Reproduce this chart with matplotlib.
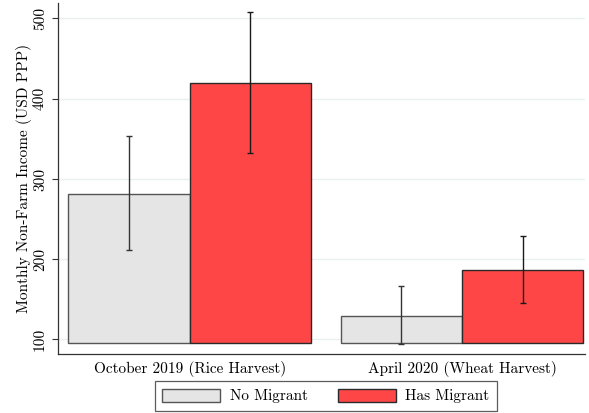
import matplotlib
matplotlib.use("Agg")
import matplotlib.pyplot as plt
import numpy as np
from matplotlib.patches import Patch

plt.rcParams['font.family'] = ['cmr10', 'DejaVu Serif']
plt.rcParams['axes.formatter.use_mathtext'] = True

periods = ["October 2019 (Rice Harvest)", "April 2020 (Wheat Harvest)"]
groups = ["No Migrant", "Has Migrant"]
no_migrant = [281.6, 129.3]
has_migrant = [419.3, 186.2]
no_lo = [211.2, 94.4]
no_hi = [353.6, 166.3]
has_lo = [332.3, 145.1]
has_hi = [507.7, 229.0]
yticks = [100, 200, 300, 400, 500]
base = 95.0

FS = 11

fig = plt.figure(figsize=(5.89, 4.13), dpi=100)
ax = fig.add_axes([58/589, 1-354/413, (585-58)/589, (354-3)/413])

x = np.arange(len(periods))
w = 0.446
gray = '#e5e5e5'
red = '#ff4646'

for i in range(len(periods)):
    ax.bar(x[i] - w/2, no_migrant[i] - base, bottom=base, width=w, color=gray,
           edgecolor='#555555', linewidth=1.0, zorder=2)
    ax.bar(x[i] + w/2, has_migrant[i] - base, bottom=base, width=w, color=red,
           edgecolor='#2a2a2a', linewidth=1.0, zorder=2)

ax.errorbar(x - w/2, no_migrant,
            yerr=[np.array(no_migrant) - np.array(no_lo), np.array(no_hi) - np.array(no_migrant)],
            fmt='none', ecolor='#333333', elinewidth=1.0, capsize=2.5, capthick=1.0, zorder=3)
ax.errorbar(x + w/2, has_migrant,
            yerr=[np.array(has_migrant) - np.array(has_lo), np.array(has_hi) - np.array(has_migrant)],
            fmt='none', ecolor='#1a1a1a', elinewidth=1.0, capsize=2.5, capthick=1.0, zorder=3)

ax.set_xlim(-0.484, 1.452)
ax.set_ylim(81.9, 519.3)
ax.set_yticks(yticks)
ax.set_yticklabels([str(t) for t in yticks], rotation=90, va='center', fontsize=FS)
ax.set_xticks(x)
ax.set_xticklabels(periods, fontsize=FS)
ax.tick_params(axis='x', length=0, pad=5)
ax.tick_params(axis='y', length=4, width=0.8, color='#333333', pad=4)
ax.yaxis.grid(True, color='#e8f0f1', linewidth=1.0, zorder=0)
ax.set_axisbelow(True)
for s in ['top', 'right']:
    ax.spines[s].set_visible(False)
for s in ['left', 'bottom']:
    ax.spines[s].set_color('#333333')
    ax.spines[s].set_linewidth(0.9)

ax.set_ylabel("Monthly Non-Farm Income (USD PPP)", fontsize=FS, labelpad=1)

handles = [Patch(facecolor=gray, edgecolor='#555555', linewidth=1.0),
           Patch(facecolor=red, edgecolor='#2a2a2a', linewidth=1.0)]
leg = fig.legend(handles, groups, loc='center', bbox_to_anchor=(326/589, 1-396/413),
                 ncol=2, fontsize=FS, frameon=True, fancybox=False,
                 handlelength=3.8, handleheight=0.95, handletextpad=0.6,
                 columnspacing=2.0, borderpad=0.5, edgecolor='#333333')
leg.get_frame().set_linewidth(0.9)

fig.savefig("out.png", dpi=100)
